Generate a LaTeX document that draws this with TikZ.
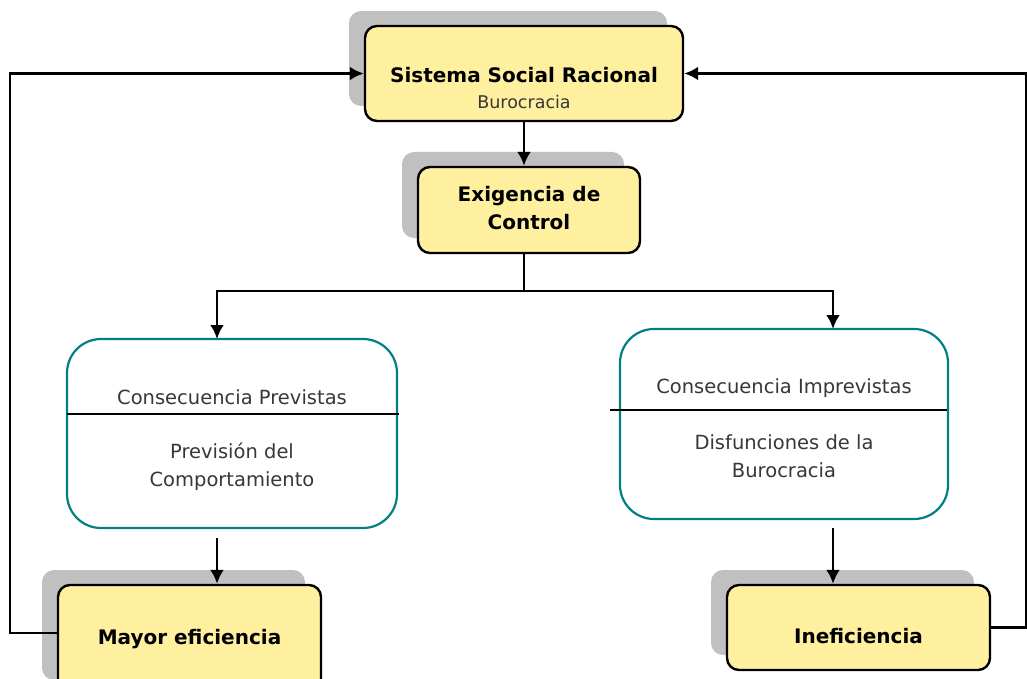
\documentclass[tikz,border=0pt]{standalone}
\usepackage{fontspec}
\setmainfont{DejaVu Sans}
\usetikzlibrary{shadows,arrows.meta}
\definecolor{boxyellow}{RGB}{255,240,160}
\definecolor{shadowgray}{RGB}{192,192,192}
\definecolor{teal}{RGB}{0,128,128}
\definecolor{textgray}{RGB}{55,55,55}
\tikzset{
  mainbox/.style={draw, line width=2.4pt, fill=boxyellow, rounded corners=12pt, inner sep=0pt,
    general shadow={fill=shadowgray, shadow xshift=-16pt, shadow yshift=15pt}},
  maintext/.style={align=center, inner sep=0pt, font=\fontsize{20}{28}\selectfont\bfseries},
  consbox/.style={draw=teal, line width=2.2pt, rounded corners=34pt, inner sep=0pt},
  constext/.style={text=textgray, align=center, inner sep=0pt, font=\fontsize{19.5}{28}\selectfont},
  link/.style={line width=2.8pt, -{Latex[length=14pt,width=14pt]}}
}
\begin{document}
\begin{tikzpicture}[x=1pt, y=-1pt]
        \useasboundingbox (0,0) rectangle (1027,679);
        % top boxes
        \node[mainbox, minimum width=318pt, minimum height=95pt] (sistema) at (524,73.5) {};
        \node[maintext] (sistematitle) at (524,75) {Sistema Social Racional};
        \node[constext, font=\fontsize{17.5}{20}\selectfont] (sistemasub) at (524,102) {Burocracia};
        \node[mainbox, minimum width=222pt, minimum height=86pt] (exigencia) at (529,210) {};
        \node[maintext] (exigenciatext) at (529,208) {Exigencia de\\Control};
        % consequences
        \node[consbox, minimum width=330pt, minimum height=189pt] (prev) at (232,433.5) {};
        \node[consbox, minimum width=328pt, minimum height=190pt] (imprev) at (784,424) {};
        \draw[line width=2.2pt] (67,414) -- (399,414);
        \draw[line width=2.2pt] (610,410) -- (947,410);
        \node[constext] (prevtitle) at (232,397) {Consecuencia Previstas};
        \node[constext] (prevtext) at (232,467) {Previsión del\\Comportamiento};
        \node[constext] (imprevtitle) at (784,388) {Consecuencia Imprevistas};
        \node[constext] (imprevtext) at (784,456) {Disfunciones de la\\Burocracia};
        % results
        \node[mainbox, minimum width=263pt, minimum height=110pt] (mayor) at (189.5,640) {};
        \node[maintext] (mayortext) at (189.5,639) {Mayor eficiencia};
        \node[mainbox, minimum width=263pt, minimum height=85pt] (inef) at (858.5,627.5) {};
        \node[maintext] (ineftext) at (858.5,636) {Ineficiencia};
        % arrows
        \coordinate (split) at (524,291);
        \coordinate (previn) at (217,339);
        \coordinate (imprevin) at (833,329);
        \coordinate (prevout) at (217,538);
        \coordinate (imprevout) at (833,528);
        \draw[link] (sistema.south) -- (sistema.south |- exigencia.north);
        \draw[line width=2.8pt] (exigencia.south -| split) -- (split);
        \draw[link] (split) -| (previn);
        \draw[link] (split) -| (imprevin);
        \draw[link] (prevout) -- (prevout |- inef.north);
        \draw[link] (imprevout) -- (imprevout |- inef.north);
        \draw[link] (mayor.west |- 0,633) -- (10,633) |- (sistema.west);
        \draw[link] (inef.east) -- ++(35,0) |- (sistema.east);
\end{tikzpicture}
\end{document}
